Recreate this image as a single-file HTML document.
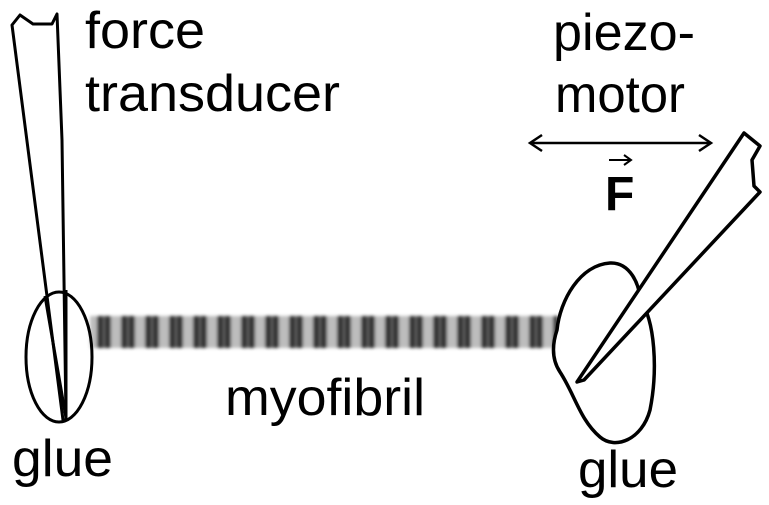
<!DOCTYPE html>
<html><head><style>body{margin:0;background:#fff}svg{display:block}text{font-family:"Liberation Sans",Arial,sans-serif;fill:#000}</style></head>
<body>
<svg width="769" height="505" viewBox="0 0 769 505">
<defs>
<pattern id="mf" x="92" y="0" width="24" height="505" patternUnits="userSpaceOnUse">
<rect x="0" y="0" width="24" height="505" fill="#bdbdbd"/>
<rect x="5" y="0" width="14" height="505" fill="#333"/>
<rect x="11" y="0" width="2" height="505" fill="#666"/>
</pattern>
<filter id="bl"><feGaussianBlur stdDeviation="1.5"/></filter>
</defs>
<rect x="90" y="316" width="468" height="32" fill="url(#mf)" filter="url(#bl)"/>
<g fill="none" stroke="#000" stroke-width="3" stroke-linejoin="round">
<path d="M12,25 L20,15 L33,24 L52,24 L57,14 L62,140 L66,420 L63,420 Z" fill="#fff"/>
<ellipse cx="59" cy="357" rx="33" ry="65"/>
<line x1="45" y1="296" x2="66" y2="418"/>
<line x1="66" y1="290" x2="66" y2="420"/>
</g>
<g fill="none" stroke="#000" stroke-width="3.5" stroke-linejoin="round">
<path d="M557,330 C560,300 580,265 610,263 C630,262 640,285 640,300 C655,320 658,370 650,410 C642,440 615,450 600,437 C580,420 575,395 560,372 C552,360 552,345 557,330 Z" fill="#fff"/>
<path d="M577,382 L744,133 L760,146 L752,160 L754,186 L760,192 L584,380 Z" fill="#fff"/>
</g>
<g stroke="#000" stroke-width="2.5" fill="none">
<line x1="530" y1="143" x2="711" y2="143"/>
<polyline points="542,135 530,143 542,151"/>
<polyline points="699,135 711,143 699,151"/>
<line x1="609" y1="160" x2="631" y2="160" stroke-width="2"/>
<polyline points="624,155 631,160 624,165" stroke-width="2"/>
</g>
<text x="605" y="210" font-size="48" font-weight="bold">F</text>
<text x="85" y="48" font-size="52" textLength="120" lengthAdjust="spacingAndGlyphs">force</text>
<text x="85" y="111" font-size="52" textLength="255" lengthAdjust="spacingAndGlyphs">transducer</text>
<text x="553" y="50" font-size="52" textLength="142" lengthAdjust="spacingAndGlyphs">piezo-</text>
<text x="555" y="112" font-size="52" textLength="130" lengthAdjust="spacingAndGlyphs">motor</text>
<text x="225" y="415" font-size="52" textLength="200" lengthAdjust="spacingAndGlyphs">myofibril</text>
<text x="12" y="476" font-size="52" textLength="101" lengthAdjust="spacingAndGlyphs">glue</text>
<text x="578" y="487" font-size="52" textLength="100" lengthAdjust="spacingAndGlyphs">glue</text>
</svg>
</body></html>
